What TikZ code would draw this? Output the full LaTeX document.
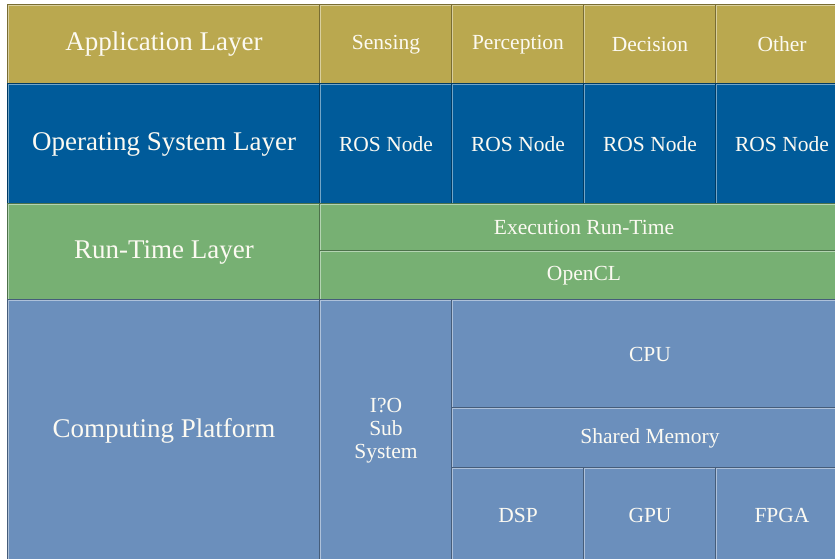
\documentclass[tikz,border=0pt]{standalone}
\usepackage{fontspec}
\setmainfont{Liberation Serif}
\usepackage{xcolor}
\usetikzlibrary{positioning}

\definecolor{appgold}{RGB}{186,168,79}
\definecolor{osblue}{RGB}{0,91,154}
\definecolor{rtgreen}{RGB}{119,176,115}
\definecolor{cpblue}{RGB}{107,143,188}
\definecolor{txt}{RGB}{252,250,242}

\begin{document}
\begin{tikzpicture}[
  x=1pt,y=-1pt,
  node distance=0pt,
  cell/.style={draw=#1!65!black,line width=0.45pt,double=#1!55!white,double distance=0.6pt,
    fill=#1,outer sep=0pt,inner sep=0pt,
    text=txt,align=center,font=\fontsize{21.5}{23}\selectfont,minimum width=132pt},
  layer/.style={cell=#1,minimum width=312pt,font=\fontsize{27}{30}\selectfont},
  app/.style={minimum height=79pt},
  os/.style={minimum height=120pt}]
  \useasboundingbox (0,0) rectangle (835,559);
  % application layer
  \node (app) [layer=appgold,app,anchor=north west] at (8,5) {Application Layer};
  \node (sens) [cell=appgold,app,right=of app] {Sensing};
  \node (perc) [cell=appgold,app,right=of sens] {Perception};
  \node (dec) [cell=appgold,app,right=of perc] {Decision};
  \node (oth) [cell=appgold,app,right=of dec] {Other};
  % operating system layer
  \node (os) [layer=osblue,os,below=of app] {Operating System Layer};
  \node (ros1) [cell=osblue,os,right=of os] {ROS Node};
  \node (ros2) [cell=osblue,os,right=of ros1] {ROS Node};
  \node (ros3) [cell=osblue,os,right=of ros2] {ROS Node};
  \node (ros4) [cell=osblue,os,right=of ros3] {ROS Node};
  % run-time layer
  \node (rt) [layer=rtgreen,minimum height=96pt,below=of os] {Run-Time Layer};
  \node (exec) [cell=rtgreen,minimum width=528pt,minimum height=47pt,below right=of rt.north east] {Execution Run-Time};
  \node (ocl) [cell=rtgreen,minimum width=528pt,minimum height=49pt,below=of exec] {OpenCL};
  % computing platform
  \node (cp) [layer=cpblue,minimum height=262pt,below=of rt] {Computing Platform};
  \node (io) [cell=cpblue,minimum height=262pt,below right=of cp.north east] {I?O\\Sub\\System};
  \node (cpu) [cell=cpblue,minimum width=396pt,minimum height=108pt,below right=of io.north east] {CPU};
  \node (shm) [cell=cpblue,minimum width=396pt,minimum height=60pt,below=of cpu] {Shared Memory};
  \node (dsp) [cell=cpblue,minimum height=94pt,below right=of shm.south west] {DSP};
  \node (gpu) [cell=cpblue,minimum height=94pt,right=of dsp] {GPU};
  \node (fpga) [cell=cpblue,minimum height=94pt,right=of gpu] {FPGA};
\end{tikzpicture}
\end{document}
